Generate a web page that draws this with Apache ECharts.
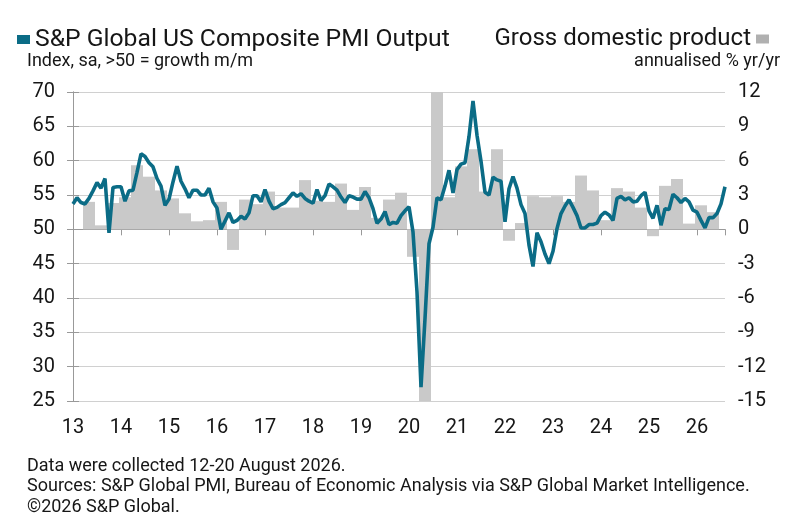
<!DOCTYPE html>
<html>
<head>
<meta charset="utf-8">
<script src="https://cdn.jsdelivr.net/npm/echarts@6/dist/echarts.min.js"></script>
<style>
html,body{margin:0;padding:0;background:#fff;}
#chart{width:809px;height:527px;}
</style>
</head>
<body>
<div id="chart"></div>
<script>
// ---------- data ----------
const pmiName = 'S&P Global US Composite PMI Output';
const gdpName = 'Gross domestic product';
const pmiUnits = 'Index, sa, >50 = growth m/m';
const gdpUnits = 'annualised % yr/yr';
const footerLines = [
  'Data were collected 12-20 August 2026.',
  'Sources: S&P Global PMI, Bureau of Economic Analysis via S&P Global Market Intelligence.',
  '\u00A92026 S&P Global.'
];
const yearLabels = ['13','14','15','16','17','18','19','20','21','22','23','24','25','26'];

// monthly PMI, Jan of each year onward
const pmi2013 = [53.7, 54.6, 53.9, 53.7, 54.5, 55.6, 56.8, 56.0, 57.4, 49.5, 56.1, 56.2];
const pmi2014 = [56.2, 54.1, 55.6, 55.7, 58.3, 61.0, 60.6, 59.7, 59.1, 57.4, 56.3, 53.5];
const pmi2015 = [54.4, 56.9, 59.2, 57.0, 55.9, 54.6, 55.7, 55.7, 55.0, 55.0, 56.0, 54.0];
const pmi2016 = [53.1, 50.0, 51.2, 52.4, 51.0, 51.3, 51.9, 51.5, 52.4, 54.9, 54.9, 54.0];
const pmi2017 = [55.8, 54.1, 53.0, 53.2, 53.6, 53.9, 54.6, 55.3, 54.8, 55.2, 54.5, 54.1];
const pmi2018 = [53.8, 55.8, 54.2, 54.9, 56.6, 56.2, 55.7, 54.7, 53.9, 54.9, 54.7, 54.4];
const pmi2019 = [54.4, 55.5, 54.6, 53.0, 50.9, 51.5, 52.6, 50.7, 51.0, 50.9, 52.0, 52.7];
const pmi2020 = [53.3, 49.6, 40.9, 27.0, 37.0, 47.9, 50.3, 54.6, 54.3, 56.3, 58.6, 55.3];
const pmi2021 = [58.7, 59.5, 59.7, 63.5, 68.7, 63.7, 59.9, 55.4, 55.0, 57.6, 57.2, 57.0];
const pmi2022 = [51.1, 55.9, 57.7, 56.0, 53.6, 52.3, 47.7, 44.6, 49.5, 48.2, 46.4, 45.0];
const pmi2023 = [46.8, 50.1, 52.3, 53.4, 54.3, 53.2, 52.0, 50.2, 50.2, 50.7, 50.7, 50.9];
const pmi2024 = [52.0, 52.5, 52.1, 51.3, 54.5, 54.8, 54.3, 54.6, 54.0, 54.1, 54.9, 55.4];
const pmi2025 = [52.7, 51.6, 53.5, 50.6, 53.0, 52.9, 55.1, 54.6, 53.9, 54.5, 54.0, 52.8];
const pmi2026 = [52.5, 51.3, 50.2, 51.7, 51.7, 52.3, 53.7, 56.2];

// quarterly GDP, Q1 2013 onward (Q1 2013 not shown)
const gdp2013 = [null, 2.4, 0.35, 2.3];
const gdp2014 = [2.8, 5.6, 4.6, 3.4];
const gdp2015 = [2.7, 1.4, 0.7, 0.8];
const gdp2016 = [2.4, -1.8, 2.6, 2.2];
const gdp2017 = [3.3, 1.9, 1.9, 4.3];
const gdp2018 = [2.5, 2.4, 4.0, 1.7];
const gdp2019 = [3.7, 1.0, 2.6, 3.2];
const gdp2020 = [-2.4, -28.0, 33.0, 2.8];
const gdp2021 = [5.5, 7.0, 3.3, 7.0];
const gdp2022 = [-1.0, 0.55, 2.9, 2.8];
const gdp2023 = [2.9, 2.4, 4.7, 3.4];
const gdp2024 = [0.8, 3.6, 3.3, 1.9];
const gdp2025 = [-0.6, 3.8, 4.4, 0.5];
const gdp2026 = [2.1, 1.5];

// ---------- build ----------
const pmi = [].concat(pmi2013, pmi2014, pmi2015, pmi2016, pmi2017, pmi2018, pmi2019,
  pmi2020, pmi2021, pmi2022, pmi2023, pmi2024, pmi2025, pmi2026);
const gdp = [].concat(gdp2013, gdp2014, gdp2015, gdp2016, gdp2017, gdp2018, gdp2019,
  gdp2020, gdp2021, gdp2022, gdp2023, gdp2024, gdp2025, gdp2026);

const lastMonth = pmi.length - 1;             // month index of last observation
const pmiData = pmi.map((v, i) => [i, v]);    // x = month index from Jan 2013
const gdpData = [];
gdp.forEach((v, q) => { if (v !== null) gdpData.push([q * 3 + 1, v]); }); // centred on mid-quarter month

const FONT = 'Roboto';
const TEAL = '#0b6c86';
const BAR = '#c9c9c9';
const INK = '#161616';

function renderBar(params, api) {
  const xc = api.value(0), v = api.value(1);
  const top = api.coord([xc, v]);
  const base = api.coord([xc, 0]);
  const w = api.size([3, 0])[0];
  const cs = params.coordSys;
  const rect = echarts.graphic.clipRectByRect(
    { x: top[0] - w / 2, y: Math.min(top[1], base[1]), width: w, height: Math.abs(base[1] - top[1]) },
    { x: cs.x, y: cs.y, width: cs.width, height: cs.height });
  return rect && { type: 'rect', shape: rect, style: { fill: BAR } };
}

const chart = echarts.init(document.getElementById('chart'), null, { renderer: 'canvas' });
chart.setOption({
  animation: false,
  textStyle: { fontFamily: FONT },
  grid: { left: 73, right: 84, top: 92, bottom: 126 },
  legend: [
    { data: [{ name: pmiName, icon: 'rect' }], left: 12, top: 22, itemWidth: 13, itemHeight: 9,
      selectedMode: false, textStyle: { fontSize: 24.7, color: INK, fontFamily: FONT } },
    { data: [{ name: gdpName, icon: 'rect' }], right: 35, top: 22, itemWidth: 13, itemHeight: 9,
      align: 'right', selectedMode: false, textStyle: { fontSize: 24, color: INK, fontFamily: FONT } }
  ],
  title: [
    { text: pmiUnits, left: 22, top: 47, textStyle: { fontSize: 18, fontWeight: 'normal', color: INK, fontFamily: FONT } },
    { text: gdpUnits, right: 24, top: 47, textStyle: { fontSize: 18, fontWeight: 'normal', color: INK, fontFamily: FONT } },
    { text: footerLines.join('\n'), left: 22, top: 451,
      textStyle: { fontSize: 18, fontWeight: 'normal', color: INK, lineHeight: 20.5, fontFamily: FONT } }
  ],
  xAxis: [
    { type: 'value', min: 0, max: lastMonth, interval: 12, position: 'bottom',
      axisLine: { show: false }, axisTick: { show: false }, splitLine: { show: false },
      axisLabel: { fontSize: 20, color: INK, margin: 17, fontFamily: FONT,
        formatter: v => (v % 12 === 0 ? yearLabels[v / 12] : '') } },
    { type: 'value', min: 0, max: lastMonth, interval: 12, position: 'bottom',
      axisLine: { show: true, onZero: true, onZeroAxisIndex: 1, lineStyle: { color: '#999', width: 1 } },
      axisTick: { show: true, length: 6, lineStyle: { color: '#999' } },
      axisLabel: { show: false }, splitLine: { show: false } }
  ],
  yAxis: [
    { type: 'value', min: 25, max: 70, interval: 5, position: 'left',
      axisLine: { show: true, lineStyle: { color: '#999' } },
      axisTick: { show: true, length: 6, lineStyle: { color: '#999' } },
      axisLabel: { fontSize: 20, color: INK, margin: 18, fontFamily: FONT },
      splitLine: { show: true, lineStyle: { color: '#d0d0d0', width: 1 } } },
    { type: 'value', min: -15, max: 12, interval: 3, position: 'right',
      axisLine: { show: true, lineStyle: { color: '#999' } },
      axisTick: { show: true, length: 6, lineStyle: { color: '#999' } },
      axisLabel: { fontSize: 20, color: INK, margin: 13, fontFamily: FONT },
      splitLine: { show: false } }
  ],
  series: [
    { name: gdpName, type: 'custom', xAxisIndex: 0, yAxisIndex: 1, renderItem: renderBar,
      itemStyle: { color: '#b0b0b0' }, data: gdpData, z: 1 },
    { name: pmiName, type: 'line', xAxisIndex: 0, yAxisIndex: 0, data: pmiData,
      showSymbol: false, symbol: 'none', lineStyle: { color: TEAL, width: 3.6 },
      itemStyle: { color: TEAL }, z: 3 }
  ]
});
</script>
</body>
</html>
